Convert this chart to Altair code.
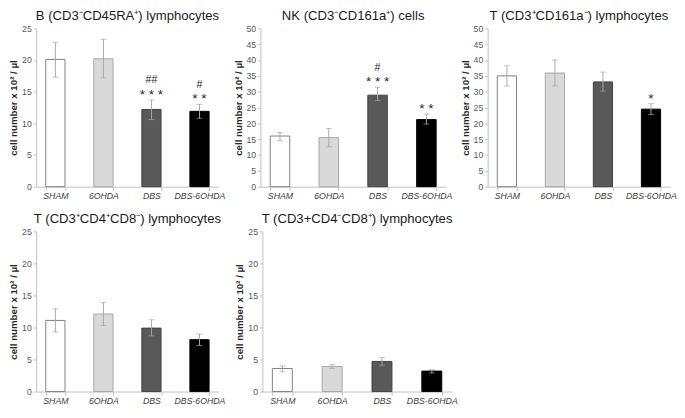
import altair as alt
import pandas as pd

groups = ["SHAM", "6OHDA", "DBS", "DBS-6OHDA"]
fills = ["#ffffff", "#d9d9d9", "#595959", "#000000"]
strokes = ["#7f7f7f", "#a6a6a6", "#404040", "#000000"]

titles = [
    "B (CD3\u207bCD45RA\u207a) lymphocytes",
    "NK (CD3\u207bCD161a\u207a) cells",
    "T (CD3\u207aCD161a\u207b) lymphocytes",
    "T (CD3\u207aCD4\u207aCD8\u207b) lymphocytes",
    "T (CD3+CD4\u207bCD8\u207a) lymphocytes",
]
y_max = [25, 50, 50, 25, 25]

b_mean = [20.1, 20.2, 12.2, 11.9]
b_lo = [17.3, 17.2, 10.6, 10.8]
b_hi = [22.8, 23.3, 13.7, 13.0]
b_stars = ["", "", "* * *", "* *"]
b_hash = ["", "", "##", "#"]

nk_mean = [16.0, 15.5, 28.9, 21.2]
nk_lo = [14.5, 12.6, 27.2, 19.8]
nk_hi = [17.1, 18.4, 31.4, 22.9]
nk_stars = ["", "", "* * *", "* *"]
nk_hash = ["", "", "#", ""]

t161_mean = [35.0, 35.9, 33.1, 24.5]
t161_lo = [31.8, 31.8, 30.2, 22.8]
t161_hi = [38.2, 40.0, 36.2, 26.2]
t161_stars = ["", "", "", "*"]
t161_hash = ["", "", "", ""]

t4_mean = [11.1, 12.1, 9.9, 8.1]
t4_lo = [9.3, 10.3, 8.7, 7.2]
t4_hi = [12.9, 13.9, 11.2, 9.0]
t4_stars = ["", "", "", ""]
t4_hash = ["", "", "", ""]

t8_mean = [3.6, 3.9, 4.7, 3.2]
t8_lo = [3.1, 3.6, 4.1, 2.9]
t8_hi = [4.0, 4.2, 5.3, 3.4]
t8_stars = ["", "", "", ""]
t8_hash = ["", "", "", ""]

y_title = "cell number x 10\u00b2 / \u00b5l"
FONT = "Liberation Sans"


def panel(title, mean, lo, hi, stars, hashes, ymax, width, height):
    df = pd.DataFrame({"group": groups, "mean": mean, "lo": lo, "hi": hi,
                       "stars": stars, "hash": hashes})
    x = alt.X("group:N", sort=groups,
              scale=alt.Scale(domain=groups, paddingInner=0.6, paddingOuter=0.2),
              axis=alt.Axis(title=None, labelAngle=0, labelFontStyle="italic",
                            labelFontSize=9, labelColor="#404040", tickBand="extent",
                            tickSize=4, labelPadding=1))
    yscale = alt.Scale(domain=[0, ymax], nice=False, zero=True)
    yaxis = alt.Axis(values=list(range(0, ymax + 1, 5)), title=y_title,
                     titleFontSize=10, titleFontWeight="bold", titleColor="#262626",
                     titlePadding=3, labelFontSize=9, labelColor="#595959",
                     tickSize=3, labelPadding=2, labelOverlap=False)

    def Y(field):
        return alt.Y(field, type="quantitative", scale=yscale, axis=yaxis)

    base = alt.Chart(df).encode(x=x)
    bars = base.mark_bar(strokeWidth=1).encode(
        y=Y("mean"),
        fill=alt.Fill("group:N", scale=alt.Scale(domain=groups, range=fills), legend=None),
        stroke=alt.Stroke("group:N", scale=alt.Scale(domain=groups, range=strokes), legend=None),
    )
    rule = base.mark_rule(color="#a6a6a6", strokeWidth=1).encode(y=Y("lo"), y2="hi:Q")
    cap_lo = base.mark_tick(color="#a6a6a6", size=6, thickness=1, orient="horizontal").encode(y=Y("lo"))
    cap_hi = base.mark_tick(color="#a6a6a6", size=6, thickness=1, orient="horizontal").encode(y=Y("hi"))
    star_t = base.transform_filter("datum.stars != ''").mark_text(
        fontSize=14, font=FONT, color="#262626", baseline="alphabetic", dy=-1
    ).encode(y=Y("hi"), text="stars:N")
    hash_t = base.transform_filter("datum.hash != ''").mark_text(
        fontSize=11, font=FONT, color="#262626", baseline="alphabetic", dy=-17
    ).encode(y=Y("hi"), text="hash:N")
    return alt.layer(bars, rule, cap_lo, cap_hi, star_t, hash_t).properties(
        width=width, height=height,
        title=alt.TitleParams(title, fontSize=13.5, fontWeight="normal", font=FONT,
                              color="#1a1a1a", frame="group", offset=2),
    )


p1 = panel(titles[0], b_mean, b_lo, b_hi, b_stars, b_hash, y_max[0], 188, 163)
p2 = panel(titles[1], nk_mean, nk_lo, nk_hi, nk_stars, nk_hash, y_max[1], 191, 163)
p3 = panel(titles[2], t161_mean, t161_lo, t161_hi, t161_stars, t161_hash, y_max[2], 188, 163)
p4 = panel(titles[3], t4_mean, t4_lo, t4_hi, t4_stars, t4_hash, y_max[3], 188, 165)
p5 = panel(titles[4], t8_mean, t8_lo, t8_hi, t8_stars, t8_hash, y_max[4], 195, 165)

top = alt.hconcat(p1, p2, p3, spacing=7)
bottom = alt.hconcat(p4, p5, spacing=9)
chart = alt.vconcat(top, bottom, spacing=12).properties(
    padding={"top": -5, "left": 0, "right": 0, "bottom": 0}
).configure_view(
    stroke=None
).configure_axis(
    grid=False, domainColor="#bfbfbf", tickColor="#bfbfbf", labelFont=FONT, titleFont=FONT
)

chart.save("out.html", embed_options={"renderer": "svg", "actions": False})
